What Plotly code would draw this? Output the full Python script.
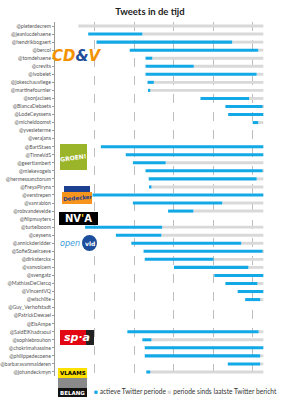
import plotly.graph_objects as go

accounts = [
    "@pieterdecrem", "@jeanlucdehaene", "@hendrikbogaert", "@bercol", "@tomdehaene",
    "@crevits", "@ivobelet", "@jokeschauvliege", "@martinefournier", "@sonjaclaes",
    "@BiancaDebaets", "@LodeCeyssens", "@micheldoomst", "@yvesleterme", "@verajans",
    "@BartStaes", "@TinneVdS", "@geertlambert", "@miekevogels", "@hermessanctorum",
    "@FreyaPiryns", "@verstrepen", "@vanrablon", "@robvandevelde", "@filipmuyters",
    "@turtelboom", "@ceysens", "@annickderidder", "@SofieStaelraeve", "@dirksterckx",
    "@vanvolcem", "@svengatz", "@MathiasDeClercq", "@VincentVQ", "@wlschilte",
    "@Guy_Verhofstadt", "@PatrickDewael", "@ElsAmpe", "@SaidElKhadraoui", "@sophiebrouhon",
    "@chokrimahassine", "@philippedecoene", "@barbaravanmalderen", "@johandeckmyn",
]

# first tweet (decimal year); None = no tweets
first_tweet = [
    2007.59, 2007.84, 2008.05, 2008.89, 2009.29,
    2009.29, 2009.29, 2009.34, 2009.37, 2010.68,
    2011.31, 2011.38, 2012.00, None, None,
    2008.16, 2008.79, 2008.97, 2009.29, 2009.37,
    2009.39, 2007.95, 2008.97, 2009.86, None,
    2007.76, 2008.54, 2008.93, 2009.24, 2009.27,
    2010.01, 2011.03, 2011.31, 2011.62, 2011.81,
    None, None, None, 2008.83, 2009.21,
    2009.27, 2009.27, 2011.37, 2009.31,
]

# last tweet (decimal year)
last_tweet = [
    2007.59, 2009.21, 2011.48, 2012.14, 2009.46,
    2010.51, 2012.10, 2009.50, 2009.41, 2011.91,
    2012.25, 2012.27, 2012.14, None, None,
    2012.27, 2012.27, 2009.80, 2012.25, 2012.10,
    2009.44, 2012.27, 2011.23, 2010.50, None,
    2009.71, 2009.69, 2011.71, 2012.25, 2011.01,
    2011.89, 2012.27, 2012.12, 2012.27, 2012.19,
    None, None, None, 2012.15, 2009.44,
    2012.27, 2012.19, 2012.19, 2009.41,
]

now = 2012.27

BLUE = "#12A9E6"
GREY = "#D9D9D9"
FONT = "Lato"

active_len = [None if f is None else l - f for f, l in zip(first_tweet, last_tweet)]
since_len = [None if l is None else now - l for l in last_tweet]

fig = go.Figure()
fig.add_trace(go.Bar(
    y=accounts, x=since_len, base=last_tweet, orientation="h",
    marker=dict(color=GREY, line=dict(width=0)), width=0.36,
    name="periode sinds laatste Twitter bericht", showlegend=False,
))
fig.add_trace(go.Bar(
    y=accounts, x=active_len, base=first_tweet, orientation="h",
    marker=dict(color=BLUE, line=dict(width=0)), width=0.38,
    name="actieve Twitter periode", showlegend=False,
))

L, R, T, B = 55, 7, 22, 24
W, H = 300, 400
pw, ph = W - L - R, H - T - B


def px(p):
    return (p - L) / pw


def py(p):
    return (H - B - p) / ph


shapes = []
ann = []


def label(xp, yp, text, size, color, family="DejaVu Sans", angle=0):
    ann.append(dict(x=px(xp), y=py(yp), xref="paper", yref="paper", showarrow=False,
                    xanchor="center", yanchor="middle", text=text, textangle=angle,
                    font=dict(family=family, size=size, color=color)))


def box(x0, x1, y0, y1, color, kind="rect"):
    shapes.append(dict(type=kind, xref="paper", yref="paper", x0=px(x0), x1=px(x1),
                       y0=py(y1), y1=py(y0), fillcolor=color, line=dict(width=0),
                       layer="above"))


# CD&V logo
label(77, 56, "<b><i>CD<span style='color:#1F4E9A'>&</span>V</i></b>", 15, "#F39200")
# Groen! logo
box(60, 87, 144, 170, "#9BB52A")
label(73.5, 157, "<b>GROEN!</b>", 6, "white", angle=-8)
# LDD logo
box(64, 90, 186, 192, "#1D3F8F")
box(62, 92, 192, 204, "#F7941D")
label(77, 198, "<b>Dedecker</b>", 5.5, "#1D3F8F", angle=-5)
# N-VA logo
box(59, 98, 212, 225, "black")
label(78.5, 218.5, "<b>NV<span style='color:#FFD200'>'</span>A</b>", 10, "white")
# Open VLD logo
label(70, 243, "<i>open</i>", 8, "#3A9AD9")
box(82, 97, 235, 251, "#1D4E9B", kind="circle")
label(89.5, 243, "<b>vld</b>", 6, "white")
# sp.a logo
box(60, 86, 330, 345, "#E30613")
box(86, 94, 330, 345, "#222222")
label(77, 337.5, "<b><i>sp·a</i></b>", 11, "white")
# Vlaams Belang logo
box(58, 87, 368, 378, "#FFE100")
box(58, 87, 378, 388, "#8A8A8A")
box(58, 87, 388, 397, "#111111")
label(72.5, 373, "<b>VLAAMS</b>", 5.5, "black")
label(72.5, 392.5, "<b>BELANG</b>", 5.5, "white")

# legend
ann.append(dict(x=px(92), y=py(391), xref="paper", yref="paper", showarrow=False,
                xanchor="left", yanchor="middle",
                text=(f"<span style='color:{BLUE}'>■</span> actieve Twitter periode "
                      f"<span style='color:{GREY}'>■</span> periode sinds laatste Twitter bericht"),
                font=dict(family=FONT, size=6.6, color="#333333")))

fig.update_layout(
    width=W, height=H,
    margin=dict(l=L, r=R, t=T, b=B, pad=0),
    paper_bgcolor="white", plot_bgcolor="white",
    barmode="overlay",
    title=dict(text="<b>Tweets in de tijd</b>", x=0.5, xanchor="center",
               y=1 - 12 / H, yanchor="middle", yref="container",
               font=dict(family=FONT, size=9.5, color="#222222")),
    xaxis=dict(range=[2007, 2013.02], dtick=1, tick0=2007, showticklabels=False,
               showgrid=True, gridcolor="#BDBDBD", griddash="dash", gridwidth=1,
               zeroline=False, showline=False, ticks=""),
    yaxis=dict(autorange="reversed", showline=True, linecolor="#9A9A9A", linewidth=1,
               ticks="outside", ticklen=2, tickcolor="#9A9A9A",
               tickfont=dict(family=FONT, size=5.2, color="#555555"),
               showgrid=False, automargin=False),
    shapes=shapes, annotations=ann,
    bargap=0.6,
)

fig.write_html("out.html")
